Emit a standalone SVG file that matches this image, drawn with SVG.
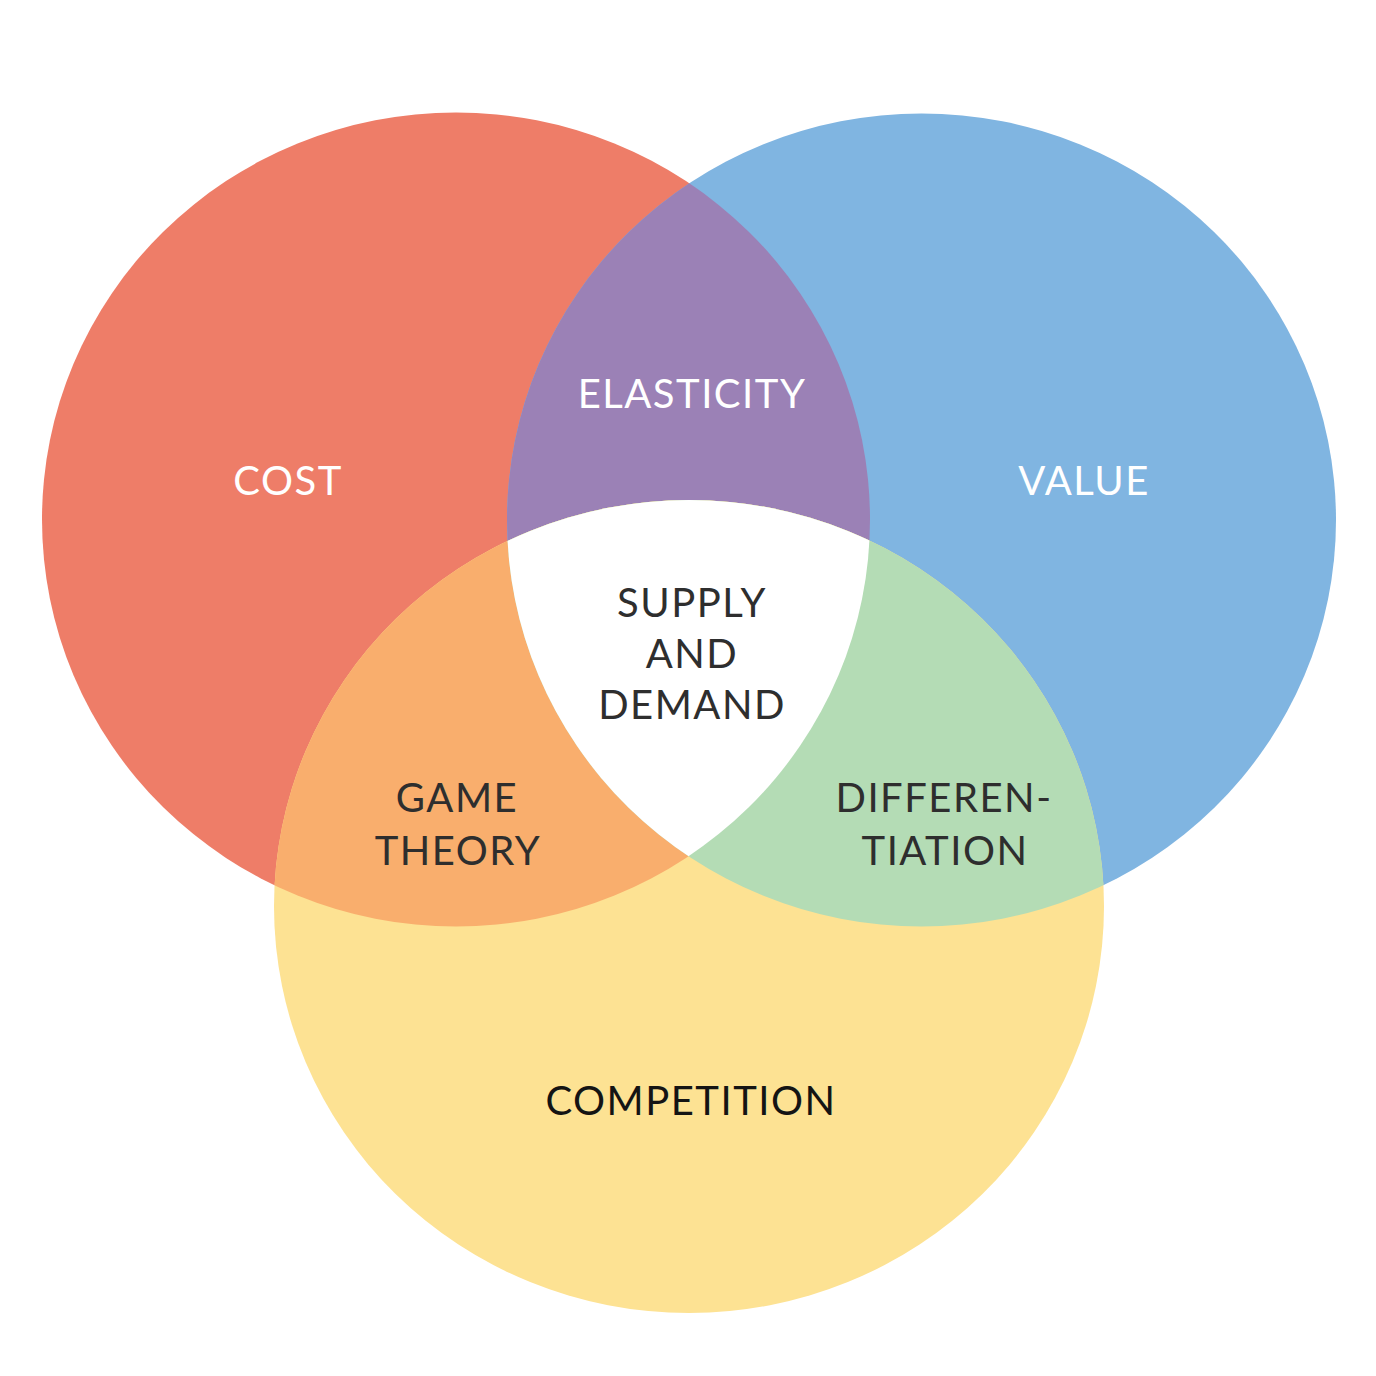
<svg xmlns="http://www.w3.org/2000/svg" width="1376" height="1376" viewBox="0 0 1376 1376">
  <style>
    .lbl { font-family: Lato, "Open Sans", "Liberation Sans", sans-serif; font-size: 40px; text-anchor: middle; letter-spacing: 1.5px; }
    .w { fill: #ffffff; }
    .d { fill: #2e2e2e; }
    .k { fill: #141414; }
  </style>
  <defs>
    <ellipse id="eRed" cx="456" cy="519.5" rx="414" ry="407"/>
    <ellipse id="eBlue" cx="921.5" cy="520" rx="414.5" ry="406.5"/>
    <ellipse id="eYellow" cx="689" cy="906.5" rx="415" ry="406.5"/>
    <clipPath id="cRed"><use href="#eRed"/></clipPath>
    <clipPath id="cBlue"><use href="#eBlue"/></clipPath>
  </defs>
  <rect width="1376" height="1376" fill="#ffffff"/>
  <g id="cost">
    <use href="#eRed" fill="#EE7D68"/>
  </g>
  <g id="value">
    <use href="#eBlue" fill="#80B5E1"/>
  </g>
  <g id="elasticity">
    <g clip-path="url(#cRed)"><use href="#eBlue" fill="#9B81B6"/></g>
  </g>
  <g id="competition">
    <use href="#eYellow" fill="#FDE293"/>
  </g>
  <g id="game-theory">
    <g clip-path="url(#cRed)"><use href="#eYellow" fill="#F9AE6D"/></g>
  </g>
  <g id="differentiation">
    <g clip-path="url(#cBlue)"><use href="#eYellow" fill="#B4DCB5"/></g>
  </g>
  <g id="supply-and-demand">
    <g clip-path="url(#cRed)"><g clip-path="url(#cBlue)"><use href="#eYellow" fill="#ffffff"/></g></g>
  </g>
  <g id="labels">
    <text class="lbl w" x="288" y="495">COST</text>
    <text class="lbl w" x="692" y="408">ELASTICITY</text>
    <text class="lbl w" x="1084" y="495">VALUE</text>
    <text class="lbl d" x="692" y="617">SUPPLY</text>
    <text class="lbl d" x="692" y="668">AND</text>
    <text class="lbl d" x="692" y="719">DEMAND</text>
    <text class="lbl d" x="457" y="812">GAME</text>
    <text class="lbl d" x="458" y="865">THEORY</text>
    <text class="lbl d" x="944" y="812">DIFFEREN-</text>
    <text class="lbl d" x="945" y="865">TIATION</text>
    <text class="lbl k" x="691" y="1115">COMPETITION</text>
  </g>
</svg>
